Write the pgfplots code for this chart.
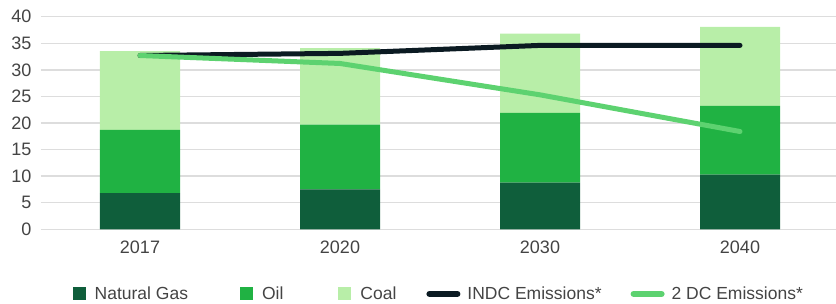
\documentclass[border=0pt]{standalone}
\usepackage{pgfplots}
\pgfplotsset{compat=1.18}
\usepackage{fontspec}
\setmainfont{Liberation Sans}
\definecolor{gas}{HTML}{0F5E3B}
\definecolor{oil}{HTML}{20B243}
\definecolor{coal}{HTML}{B8EEA8}
\definecolor{indc}{HTML}{0B1A22}
\definecolor{tdc}{HTML}{5DD270}
\definecolor{txt}{HTML}{444444}
\definecolor{grd}{HTML}{DDDDDD}
\begin{document}
\begin{tikzpicture}
\pgfplotsset{base/.style={
  scale only axis, width=795pt, height=212.6pt,
  xmin=-0.495, xmax=3.48, ymin=0, ymax=40,
}}
\begin{axis}[base, name=ax,
  ybar stacked, bar width=0.4,
  xtick={0,1,2,3}, xticklabels={2017,2020,2030,2040},
  ytick={0,5,...,40},
  ymajorgrids, grid style={grd, line width=1.5pt},
  axis line style={draw=none},
  major tick length=0pt,
  tick label style={font=\fontsize{18}{20}\selectfont, text=txt},
  /pgf/number format/assume math mode=true,
  yticklabel style={xshift=-6pt},
  xticklabel style={yshift=-8pt},
  legend columns=5,
  legend style={draw=none, fill=none, at={(0.0396,-0.304)}, anchor=west,
    inner sep=0pt, font=\fontsize{17.5}{20}\selectfont, text=txt,
    /tikz/column 1/.style={column sep=7pt},
    /tikz/column 2/.style={column sep=50pt},
    /tikz/column 3/.style={column sep=7pt},
    /tikz/column 4/.style={column sep=53pt},
    /tikz/column 5/.style={column sep=7pt},
    /tikz/column 6/.style={column sep=28pt},
    /tikz/column 7/.style={column sep=5pt},
    /tikz/column 8/.style={column sep=27pt},
    /tikz/column 9/.style={column sep=5pt}},
]
\addplot[fill=gas, draw=none, legend image code/.code={\fill[gas] (0pt,-6.5pt) rectangle (13pt,6.5pt);}]
  coordinates {(0,6.8) (1,7.5) (2,8.8) (3,10.3)};
\addlegendentry{Natural Gas}
\addplot[fill=oil, draw=none, legend image code/.code={\fill[oil] (0pt,-6.5pt) rectangle (13pt,6.5pt);}]
  coordinates {(0,11.9) (1,12.2) (2,13.1) (3,12.9)};
\addlegendentry{Oil}
\addplot[fill=coal, draw=none, legend image code/.code={\fill[coal] (0pt,-6.5pt) rectangle (13pt,6.5pt);}]
  coordinates {(0,14.8) (1,14.4) (2,14.9) (3,14.9)};
\addlegendentry{Coal}
\addlegendimage{legend image code/.code={\draw[indc, line width=6pt, line cap=round] (3pt,0) -- (31pt,0);}}
\addlegendentry{INDC Emissions*}
\addlegendimage{legend image code/.code={\draw[tdc, line width=6pt, line cap=round] (3pt,0) -- (31pt,0);}}
\addlegendentry{2 DC Emissions*}
\end{axis}
\begin{axis}[base, hide axis]
\addplot[indc, line width=5pt, line cap=round, line join=round]
  coordinates {(0,32.7) (1,33.1) (2,34.6) (3,34.6)};
\addplot[tdc, line width=5pt, line cap=round, line join=round]
  coordinates {(0,32.7) (1,31.2) (2,25.3) (3,18.4)};
\end{axis}
\pgfresetboundingbox
\useasboundingbox ([xshift=-41pt,yshift=-73.7pt]ax.south west) rectangle ([yshift=16.7pt]ax.north east);
\end{tikzpicture}
\end{document}
